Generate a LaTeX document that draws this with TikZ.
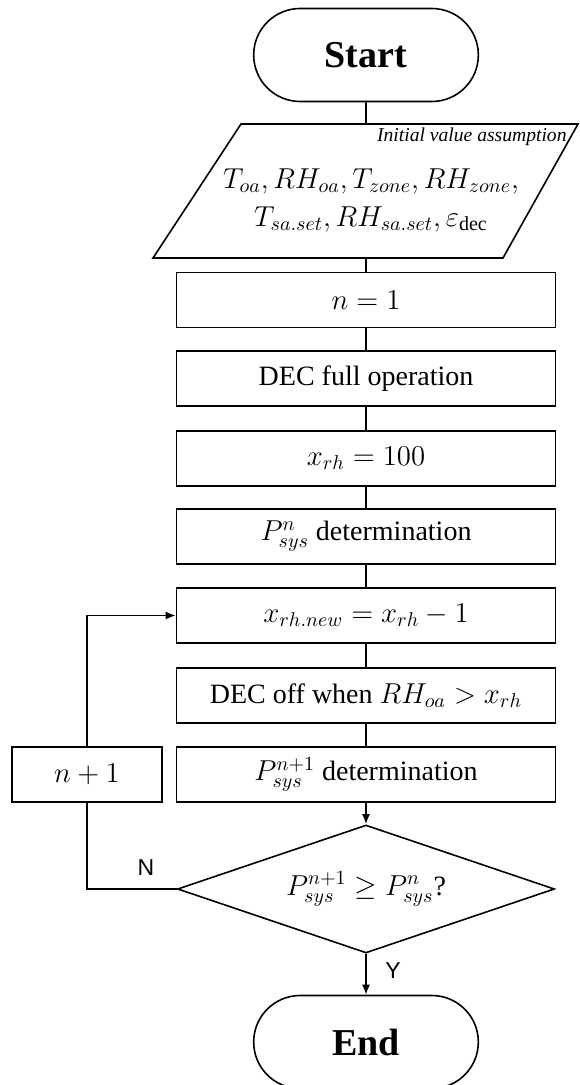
\documentclass[tikz,border=0pt]{standalone}
\usepackage{fontspec}
\setmainfont{Liberation Serif}
\newfontfamily\labelfont{Liberation Sans}
\usetikzlibrary{shapes.geometric, shapes.misc, arrows.meta}

\begin{document}
\begin{tikzpicture}[x=0.5pt, y=-0.5pt, line width=0.8pt,
    termStyle/.style={rounded rectangle, draw, minimum width=119pt, minimum height=46.5pt, font=\fontsize{19}{22}\selectfont\bfseries},
    boxStyle/.style={rectangle, draw, minimum width=189.5pt, minimum height=27.5pt, inner sep=0pt, font=\fontsize{14}{17}\selectfont},
    condStyle/.style={diamond, draw, aspect=2.95, minimum width=188.5pt, minimum height=64pt, inner sep=0pt, font=\fontsize{14}{17}\selectfont},
    arrowStyle/.style={-{Latex[length=5pt, width=4pt]}}]
    \useasboundingbox (0,0) rectangle (579,1085);

    \node[termStyle](start) at (366, 55) {Start};
    % input parallelogram
    \draw (241, 124) -- (578, 124) -- (503, 258) -- (153, 258) -- cycle;
    \coordinate (inTop) at (366, 124);
    \coordinate (inBot) at (366, 258);
    \node[font=\fontsize{9.8}{11}\selectfont\itshape, anchor=east](assume) at (574, 137) {Initial value assumption};
    \node[font=\fontsize{14}{19}\selectfont, align=center](vars) at (371, 200)
        {$T_{oa}, RH_{oa}, T_{zone}, RH_{zone},$\\ $T_{sa.set}, RH_{sa.set}, \varepsilon_{\mbox{\fontsize{10}{12}\selectfont dec}}$};
    \node[boxStyle](n1) at (366, 300) {$n=1$};
    \node[boxStyle](dec) at (366, 378.5) {DEC full operation};
    \node[boxStyle](xrh) at (366, 458.5) {$x_{rh}=100$};
    \node[boxStyle](pn) at (366, 536.5) {$P_{sys}^{n}$ determination};
    \node[boxStyle](xnew) at (366, 615.5) {$x_{rh.new}=x_{rh}-1$};
    \node[boxStyle](decoff) at (366, 695.5) {DEC off when $RH_{oa}>x_{rh}$};
    \node[boxStyle](pn1) at (366, 774.5) {$P_{sys}^{n+1}$ determination};
    \node[boxStyle, minimum width=75pt](inc) at (87, 774.5) {$n+1$};
    \node[condStyle](cond) at (366, 889) {$P_{sys}^{n+1}\geq P_{sys}^{n}$?};
    \node[termStyle](stop) at (366, 1042) {End};
    \node[font=\fontsize{11.5}{13}\labelfont](nlab) at (146, 868) {N};
    \node[font=\fontsize{11.5}{13}\labelfont](ylab) at (393, 971) {Y};

    \draw (start) -- (inTop);
    \draw (inBot) -- (n1);
    \draw (n1) -- (dec);
    \draw (dec) -- (xrh);
    \draw (xrh) -- (pn);
    \draw (pn) -- (xnew);
    \draw (xnew) -- (decoff);
    \draw (decoff) -- (pn1);
    \draw[arrowStyle] (pn1) -- (cond);
    \draw[arrowStyle] (cond) -- (stop);
    \draw (cond.west) -| (inc.south);
    \draw[arrowStyle] (inc.north) |- (xnew.west);
\end{tikzpicture}
\end{document}
